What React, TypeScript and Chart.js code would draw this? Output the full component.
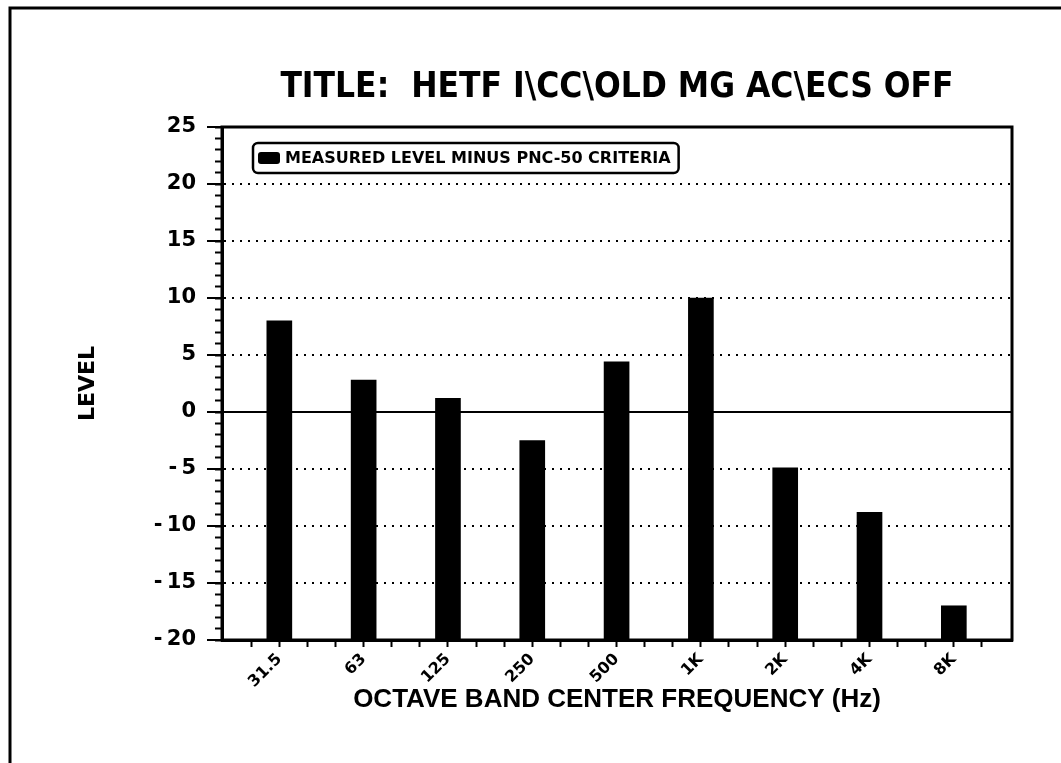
import React, { useEffect, useRef } from "react";
import { Chart, registerables } from "chart.js";

Chart.register(...registerables);

// ---- data ----
const categories = ["31.5", "63", "125", "250", "500", "1K", "2K", "4K", "8K"];
const levels = [8.0, 2.8, 1.2, -2.5, 4.4, 10.0, -4.9, -8.8, -17.0];
const seriesLabel = "MEASURED LEVEL MINUS PNC-50 CRITERIA";
const chartTitle = "TITLE:  HETF I\\CC\\OLD MG AC\\ECS OFF";
const xAxisTitle = "OCTAVE BAND CENTER FREQUENCY (Hz)";
const yAxisTitle = "LEVEL";
const yMin = -20;
const yMax = 25;
const yMajorStep = 5;
const yMinorStep = 1;
const xMinorPerBand = 3;

// ---- layout ----
const W = 1061;
const H = 763;
const PLOT_LEFT = 222;
const PLOT_RIGHT = 1012;
const PLOT_BOTTOM = 640;
const X_MIN = -0.68;
const X_MAX = 8.69;

const HEAVY = "'DejaVu Sans', sans-serif";
const NARROW = "'Liberation Sans Narrow', 'DejaVu Sans Condensed', sans-serif";
const HELV = "'Liberation Sans', Arial, sans-serif";

const xTickValues: number[] = [];
for (let k = -1; k <= (categories.length - 1) * xMinorPerBand + 1; k++) {
  xTickValues.push(k / xMinorPerBand);
}

const framePlugin = {
  id: "frame",
  beforeDraw(chart: any) {
    const { ctx } = chart;
    ctx.save();
    ctx.fillStyle = "#fff";
    ctx.fillRect(0, 0, chart.width, chart.height);
    ctx.strokeStyle = "#000";
    ctx.lineWidth = 3;
    ctx.beginPath();
    ctx.moveTo(10, H);
    ctx.lineTo(10, 8);
    ctx.lineTo(W, 8);
    ctx.stroke();
    ctx.restore();
  },
};

const plotBorderPlugin = {
  id: "plotBorder",
  afterDatasetsDraw(chart: any) {
    const { ctx, chartArea: a } = chart;
    ctx.save();
    ctx.strokeStyle = "#000";
    ctx.lineWidth = 3;
    ctx.strokeRect(a.left, a.top, a.right - a.left, a.bottom - a.top);
    ctx.restore();
  },
};

const legendBoxPlugin = {
  id: "legendBox",
  afterDraw(chart: any) {
    const { ctx, chartArea: a } = chart;
    const label = chart.data.datasets[0].label;
    const x = a.left + 31;
    const y = a.top + 16;
    const h = 30;
    ctx.save();
    ctx.font = `bold 16px ${HEAVY}`;
    const tw = ctx.measureText(label).width;
    const w = 32 + tw + 8;
    ctx.lineWidth = 2.5;
    ctx.strokeStyle = "#000";
    ctx.beginPath();
    ctx.roundRect(x, y, w, h, 5);
    ctx.stroke();
    ctx.fillStyle = "#000";
    ctx.beginPath();
    ctx.roundRect(x + 5, y + 9, 22, 12, 3);
    ctx.fill();
    ctx.textBaseline = "middle";
    ctx.textAlign = "left";
    ctx.fillText(label, x + 32, y + h / 2 + 1);
    ctx.restore();
  },
};

export default function App() {
  const ref = useRef<HTMLCanvasElement | null>(null);

  useEffect(() => {
    if (!ref.current) return;
    const chart = new Chart(ref.current, {
      type: "bar",
      data: {
        datasets: [
          {
            label: seriesLabel,
            data: levels.map((v, i) => ({ x: i, y: v })),
            base: yMin,
            backgroundColor: "#000",
            borderWidth: 0,
            barThickness: 25,
            xAxisID: "x",
            yAxisID: "y",
          } as any,
        ],
      },
      options: {
        responsive: false,
        animation: false,
        devicePixelRatio: 1,
        layout: { padding: { left: 0, right: W - PLOT_RIGHT, top: 0, bottom: 0 } },
        plugins: {
          legend: { display: false },
          tooltip: { enabled: false },
          title: {
            display: true,
            text: chartTitle,
            fullSize: false,
            color: "#000",
            font: { family: NARROW, size: 35, weight: "bold", lineHeight: 1.2 },
            padding: { top: 67, bottom: 18 },
          },
        },
        scales: {
          x: {
            type: "linear",
            position: "bottom",
            min: X_MIN,
            max: X_MAX,
            offset: false,
            afterBuildTicks: (s: any) => {
              s.ticks = xTickValues.map((v) => ({ value: v }));
            },
            afterFit: (s: any) => {
              s.height = H - PLOT_BOTTOM;
            },
            ticks: {
              autoSkip: false,
              maxRotation: 45,
              minRotation: 45,
              padding: 3,
              color: "#000",
              font: { family: HEAVY, size: 16, weight: "bold" },
              callback: (v: any) => {
                const i = Math.round(v);
                return Math.abs(v - i) < 1e-6 && categories[i] !== undefined ? categories[i] : "";
              },
            },
            grid: {
              offset: false,
              drawOnChartArea: false,
              drawTicks: true,
              tickLength: 7,
              tickWidth: 2,
              tickColor: "#000",
            },
            border: { display: true, color: "#000", width: 3 },
            title: {
              display: true,
              text: xAxisTitle,
              color: "#000",
              font: { family: HELV, size: 26, weight: "bold", lineHeight: 1.2 },
              padding: { top: 0, bottom: 48 },
            },
          } as any,
          y: {
            type: "linear",
            position: "left",
            weight: 1,
            min: yMin,
            max: yMax,
            afterFit: (s: any) => {
              s.width = PLOT_LEFT;
            },
            ticks: {
              stepSize: yMajorStep,
              padding: 11,
              color: "#000",
              font: { family: HEAVY, size: 21, weight: "bold" },
              callback: (v: any) => (v < 0 ? "-\u2009" + Math.abs(v) : String(v)),
            },
            grid: {
              drawOnChartArea: true,
              drawTicks: true,
              tickLength: 15,
              tickWidth: 2,
              tickColor: "#000",
              lineWidth: 2,
              color: (c: any) =>
                c.tick && (c.tick.value === yMin || c.tick.value === yMax) ? "rgba(0,0,0,0)" : "#000",
            },
            border: {
              display: true,
              color: "#000",
              width: 3,
              dash: (c: any) => (c.tick && c.tick.value === 0 ? [] : [2, 6]),
            },
            title: {
              display: true,
              text: yAxisTitle,
              color: "#000",
              font: { family: HEAVY, size: 22, weight: "bold", lineHeight: 1.2 },
              padding: { top: 75, bottom: 0 },
            },
          } as any,
          yMinor: {
            type: "linear",
            position: "left",
            weight: 0,
            min: yMin,
            max: yMax,
            afterFit: (s: any) => {
              s.width = 0;
            },
            ticks: { stepSize: yMinorStep, display: false },
            grid: {
              drawOnChartArea: false,
              drawTicks: true,
              tickLength: 7,
              tickWidth: 2,
              tickColor: "#000",
            },
            border: { display: false },
          } as any,
        },
      },
      plugins: [framePlugin, plotBorderPlugin, legendBoxPlugin],
    });
    return () => chart.destroy();
  }, []);

  return (
    <div style={{ position: "fixed", left: 0, top: 0, width: W, height: H, background: "#fff" }}>
      <canvas ref={ref} width={W} height={H} style={{ display: "block", width: W, height: H }} />
    </div>
  );
}
